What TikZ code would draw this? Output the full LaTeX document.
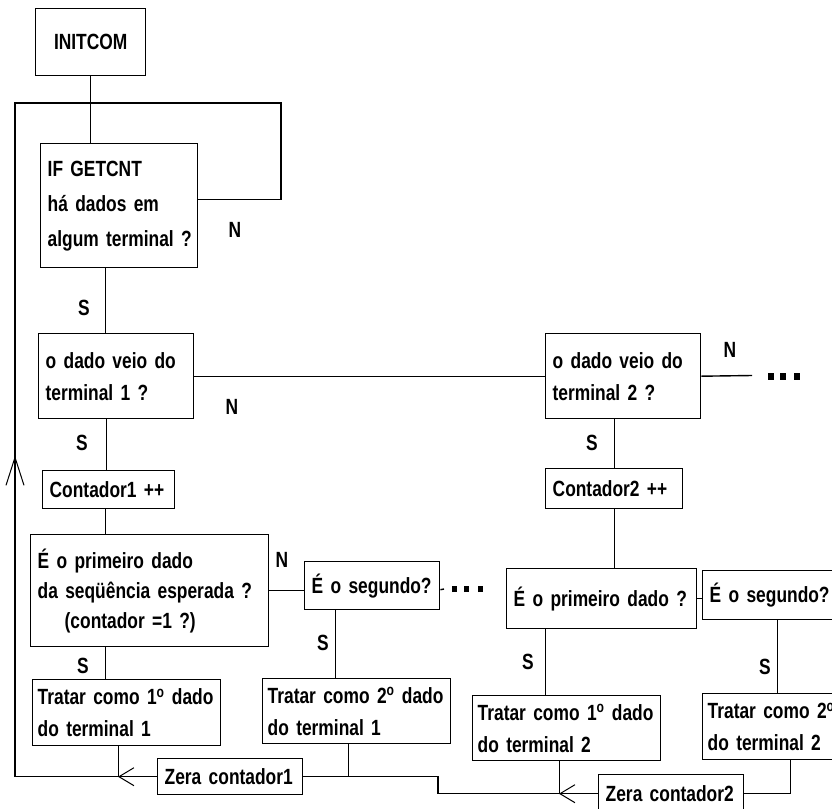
\documentclass[tikz,border=0pt]{standalone}
\usepackage{fontspec}
\setmainfont{Liberation Sans}[FakeStretch=0.79]
\usetikzlibrary{arrows.meta}
\usetikzlibrary{decorations.markings}

\tikzset{
  box/.style={draw, anchor=north west, inner xsep=0pt, inner ysep=0pt, align=left,
    execute at begin node={\leftskip=7pt\rightskip=0pt plus 1fil minus 40pt}},
  treat/.style={box, execute at begin node={\leftskip=5pt}},
  lbl/.style={inner sep=0pt},
  dotsq/.style={inner sep=0pt, anchor=west},
  backarrow/.style={postaction={decorate},
    decoration={markings, mark=at position #1 with {\arrow{>}}}},
}

\begin{document}
\begin{tikzpicture}[x=1pt, y=-1pt, line width=1.4pt,
  font=\fontsize{22}{32}\selectfont\bfseries,
  >={Straight Barb[length=15pt,width=18pt,line width=1pt]}]
\useasboundingbox (0,0) rectangle (832,808);
\clip (0,0) rectangle (832,808);

\node[draw, anchor=north west, minimum width=110pt, minimum height=67pt] (init) at (35,8) {INITCOM};
\node[box, text width=157pt, minimum height=124pt, font=\fontsize{22}{35}\selectfont\bfseries] (getcnt) at (40,143)
  {IF GETCNT\\há dados em\\algum terminal ?};
\node[box, text width=155pt, minimum height=85pt] (term1) at (38,333) {o dado veio do\\terminal 1 ?};
\node[box, text width=155pt, minimum height=85pt] (term2) at (545,333) {o dado veio do\\terminal 2 ?};
\node[box, text width=132pt, minimum height=38pt] (cnt1) at (42,470) {Contador1 ++};
\node[box, text width=137pt, minimum height=40pt] (cnt2) at (545,468) {Contador2 ++};
\node[box, text width=238pt, minimum height=112pt, font=\fontsize{22}{30}\selectfont\bfseries] (first1) at (30,534)
  {É o primeiro dado\\da seqüência esperada ?\\\hspace*{27pt}(contador =1 ?)};
\node[box, text width=135pt, minimum height=48pt] (second1) at (304,561) {É o segundo?};
\node[treat, text width=188pt, minimum height=66pt] (treat11) at (32,679) {Tratar como 1\textsuperscript{o} dado\\do terminal 1};
\node[treat, text width=188pt, minimum height=65pt] (treat21) at (262,678) {Tratar como 2\textsuperscript{o} dado\\do terminal 1};
\node[box, text width=145pt, minimum height=36pt] (zera1) at (157,758) {Zera contador1};
\node[box, text width=190pt, minimum height=60pt] (first2) at (506,568) {É o primeiro dado ?};
\node[box, text width=150pt, minimum height=49pt] (second2) at (702,570) {É o segundo?};
\node[treat, text width=188pt, minimum height=65pt] (treat12) at (472,695) {Tratar como 1\textsuperscript{o} dado\\do terminal 2};
\node[treat, text width=176pt, minimum height=66pt] (treat22) at (702,693) {Tratar como 2\textsuperscript{o} dado\\do terminal 2};
\node[box, text width=145pt, minimum height=38pt] (zera2) at (598,774) {Zera contador2};

\node[lbl] (n1) at (235,230) {N};
\node[lbl] (s1) at (84,308) {S};
\node[lbl] (n2) at (232,407) {N};
\node[lbl] (n3) at (730,350) {N};
\node[lbl] (s2) at (82,443) {S};
\node[lbl] (s3) at (592,443) {S};
\node[lbl] (n4) at (282,560) {N};
\node[lbl] (s4) at (83,666) {S};
\node[lbl] (s5) at (323,643) {S};
\node[lbl] (s6) at (528,662) {S};
\node[lbl] (s7) at (765,667) {S};

\node[dotsq] (more1) at (451,589) {\rule{5pt}{6pt}\hspace{7pt}\rule{5pt}{6pt}\hspace{9pt}\rule{5pt}{6pt}};
\node[dotsq] (more2) at (767,376) {\rule{6pt}{7pt}\hspace{6pt}\rule{6pt}{7pt}\hspace{8pt}\rule{6pt}{7pt}};

\coordinate (loopL) at (15,103);
\coordinate (loopR) at (281,103);
\coordinate (t2end) at (752,375.5);
\coordinate (s1end) at (444,589);
\coordinate (bend2) at (438,785);

\draw (init.south) -- (init.south |- getcnt.north);
\draw[postaction={decorate}, decoration={markings,
    mark=at position 39pt with {\arrow{>}},
    mark=at position 463pt with {\arrow{Straight Barb[length=28pt,width=18pt,line width=1pt]}}}]
  (zera1.west) -| (loopL) -- (loopR) |- ([yshift=6pt]getcnt.east);
\draw ([xshift=-13.5pt]getcnt.south) -- ([xshift=-10.5pt]term1.north);
\draw (term1.east) -- (term2.west);
\draw (term2.east) -- (t2end);
\draw ([xshift=-9.5pt]term1.south) -- ([xshift=-2pt]cnt1.north);
\draw (term2.south -| cnt2.north) -- (cnt2.north);
\draw ([xshift=-3pt]cnt1.south) -- ([xshift=-44pt]first1.north);
\draw (cnt2.south) -- (cnt2.south |- first2.north);
\draw (first1.east) -- (first1.east -| second1.west);
\draw ([yshift=-4pt]second1.east) -- (s1end);
\draw ([xshift=-36.5pt]second1.south) -- ([xshift=-21pt]treat21.north);
\draw ([xshift=-44pt]first1.south) -- ([xshift=-21pt]treat11.north);
\draw ([xshift=-8pt]treat11.south) |- (zera1.west);
\draw ([xshift=-8pt]treat21.south) |- (zera1.east);
\draw[backarrow=39pt] (zera2.west) -- (zera2.west -| bend2) |- (zera1.east);
\draw ([xshift=-7pt]treat12.south) |- (zera2.west);
\draw (zera2.east) -| (treat22.south);
\draw (first2.east) -- (first2.east -| second2.west);
\draw ([xshift=-56pt]first2.south) -- ([xshift=-21pt]treat12.north);
\draw (second2.south) -- ([xshift=-13pt]treat22.north);
\end{tikzpicture}
\end{document}
